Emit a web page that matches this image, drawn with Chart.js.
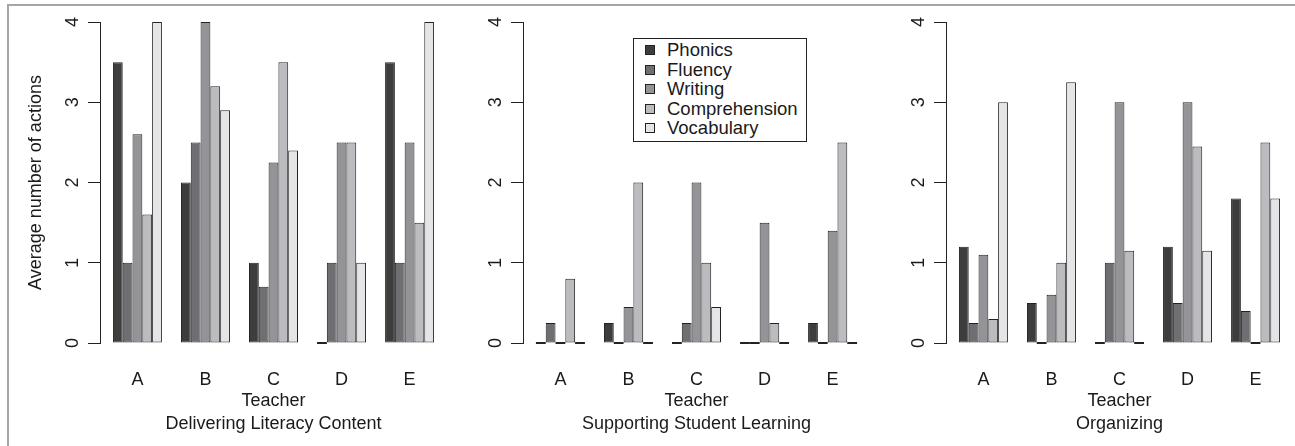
<!DOCTYPE html>
<html>
<head>
<meta charset="utf-8">
<script src="https://cdn.jsdelivr.net/npm/chart.js@4.4.1/dist/chart.umd.min.js"></script>
<style>
  html, body { margin: 0; padding: 0; background: #ffffff; }
  body { width: 1295px; height: 446px; position: relative; overflow: hidden;
         font-family: "Liberation Sans", Arial, Helvetica, sans-serif; }
  #frameTop { position: absolute; left: 8px; top: 4px; width: 1287px; height: 2px; background: #a6a6a6; }
  #frameLeft { position: absolute; left: 7px; top: 4px; width: 2px; height: 442px; background: #a6a6a6; }
  canvas { position: absolute; top: 0; }
  #legend { position: absolute; left: 633px; top: 38px; width: 172px; height: 101px;
            border: 1.5px solid #222; background: #fff; padding-top: 1px; box-sizing: content-box; }
  .item { position: relative; height: 19.6px; line-height: 19.6px; font-size: 18.5px; color: #1a1a1a; white-space: nowrap; }
  .sw { position: absolute; left: 11px; top: 5px; width: 8px; height: 8px; border: 1px solid #222; }
  .lbl { position: absolute; left: 33px; top: 0; }
</style>
</head>
<body>
<div id="frameTop"></div>
<div id="frameLeft"></div>
<canvas id="c1" width="437" height="446"></canvas>
<canvas id="c2" width="437" height="446"></canvas>
<canvas id="c3" width="437" height="446"></canvas>
<div id="legend"></div>
<script>
// ---------- data ----------
const teachers = ['A', 'B', 'C', 'D', 'E'];
const seriesNames = ['Phonics', 'Fluency', 'Writing', 'Comprehension', 'Vocabulary'];
const yTickValues = [0, 1, 2, 3, 4];
const panelTitles = ['Delivering Literacy Content', 'Supporting Student Learning', 'Organizing'];
const xAxisTitle = 'Teacher';
const yAxisTitle = 'Average number of actions';

// Delivering Literacy Content
const deliveringPhonics       = [3.5, 2.0, 1.0, 0.0, 3.5];
const deliveringFluency       = [1.0, 2.5, 0.7, 1.0, 1.0];
const deliveringWriting       = [2.6, 4.0, 2.25, 2.5, 2.5];
const deliveringComprehension = [1.6, 3.2, 3.5, 2.5, 1.5];
const deliveringVocabulary    = [4.0, 2.9, 2.4, 1.0, 4.0];

// Supporting Student Learning
const supportingPhonics       = [0.0, 0.25, 0.0, 0.0, 0.25];
const supportingFluency       = [0.25, 0.0, 0.25, 0.0, 0.0];
const supportingWriting       = [0.0, 0.45, 2.0, 1.5, 1.4];
const supportingComprehension = [0.8, 2.0, 1.0, 0.25, 2.5];
const supportingVocabulary    = [0.0, 0.0, 0.45, 0.0, 0.0];

// Organizing
const organizingPhonics       = [1.2, 0.5, 0.0, 1.2, 1.8];
const organizingFluency       = [0.25, 0.0, 1.0, 0.5, 0.4];
const organizingWriting       = [1.1, 0.6, 3.0, 3.0, 0.0];
const organizingComprehension = [0.3, 1.0, 1.15, 2.45, 2.5];
const organizingVocabulary    = [3.0, 3.25, 0.0, 1.15, 1.8];

// ---------- styles ----------
const seriesColors = ['#3d3d3d', '#6e6f73', '#939398', '#bcbcc0', '#e5e5e7'];
const inkColor = '#222222';
const textColor = '#1a1a1a';
const fontFamily = '"Liberation Sans", Arial, Helvetica, sans-serif';

// zero-height bars drawn as a short dark line on the baseline
const zeroBarPlugin = {
  id: 'zeroBars',
  afterDatasetsDraw(chart) {
    const ctx = chart.ctx;
    ctx.save();
    ctx.fillStyle = inkColor;
    chart.data.datasets.forEach((ds, di) => {
      const meta = chart.getDatasetMeta(di);
      meta.data.forEach((el, j) => {
        if (ds.data[j].y === 0) {
          ctx.fillRect(el.x - el.width / 2, el.base - 1, el.width, 2);
        }
      });
    });
    ctx.restore();
  }
};

function makePanel(canvasId, leftPx, seriesValues, subtitle, showYTitle) {
  const canvas = document.getElementById(canvasId);
  canvas.style.left = leftPx + 'px';
  const datasets = seriesValues.map((vals, si) => ({
    label: seriesNames[si],
    data: teachers.map((t, i) => ({ x: i, y: vals[i] })),
    backgroundColor: seriesColors[si],
    borderColor: inkColor,
    borderWidth: 1,
    borderSkipped: false,
    categoryPercentage: 0.72,
    barPercentage: 1.0
  }));
  return new Chart(canvas, {
    type: 'bar',
    data: { datasets },
    plugins: [zeroBarPlugin],
    options: {
      responsive: false,
      maintainAspectRatio: false,
      animation: false,
      devicePixelRatio: 1,
      layout: { padding: { top: 22, bottom: 0, left: 0, right: 0 } },
      plugins: { legend: { display: false }, tooltip: { enabled: false } },
      scales: {
        x: {
          type: 'linear',
          offset: false,
          min: -0.55,
          max: 4.55,
          grid: { display: false, drawTicks: false },
          border: { display: false },
          ticks: {
            stepSize: 1,
            includeBounds: false,
            autoSkip: false,
            maxRotation: 0,
            padding: 26,
            color: textColor,
            font: { family: fontFamily, size: 18 },
            callback: (v) => (Number.isInteger(v) && v >= 0 && v < teachers.length) ? teachers[v] : ''
          },
          title: {
            display: true,
            text: [xAxisTitle, subtitle],
            color: textColor,
            font: { family: fontFamily, size: 18, lineHeight: 1.25 },
            padding: { top: 0, bottom: 11 }
          },
          afterFit: (scale) => { scale.height = 103; scale.paddingLeft = 0; scale.paddingRight = 0; }
        },
        y: {
          type: 'linear',
          min: 0,
          max: 4,
          afterBuildTicks: (scale) => { scale.ticks = yTickValues.map(v => ({ value: v })); },
          grid: { drawOnChartArea: false, drawTicks: true, tickLength: 12, color: inkColor, lineWidth: 1 },
          border: { display: true, color: inkColor, width: 1 },
          ticks: {
            minRotation: 90,
            maxRotation: 90,
            crossAlign: 'center',
            padding: 10,
            color: textColor,
            font: { family: fontFamily, size: 18 },
            callback: (v) => String(v)
          },
          title: {
            display: showYTitle,
            text: yAxisTitle,
            color: textColor,
            font: { family: fontFamily, size: 18 },
            padding: { top: 15, bottom: 0 }
          },
          afterFit: (scale) => { scale.width = 90; scale.paddingTop = 0; scale.paddingBottom = 0; }
        }
      }
    }
  });
}

makePanel('c1', 10,
  [deliveringPhonics, deliveringFluency, deliveringWriting, deliveringComprehension, deliveringVocabulary],
  panelTitles[0], true);
makePanel('c2', 433,
  [supportingPhonics, supportingFluency, supportingWriting, supportingComprehension, supportingVocabulary],
  panelTitles[1], false);
makePanel('c3', 856,
  [organizingPhonics, organizingFluency, organizingWriting, organizingComprehension, organizingVocabulary],
  panelTitles[2], false);

// legend
const legend = document.getElementById('legend');
seriesNames.forEach((name, i) => {
  const row = document.createElement('div');
  row.className = 'item';
  const sw = document.createElement('span');
  sw.className = 'sw';
  sw.style.background = seriesColors[i];
  const lbl = document.createElement('span');
  lbl.className = 'lbl';
  lbl.textContent = name;
  row.appendChild(sw);
  row.appendChild(lbl);
  legend.appendChild(row);
});
</script>
</body>
</html>
